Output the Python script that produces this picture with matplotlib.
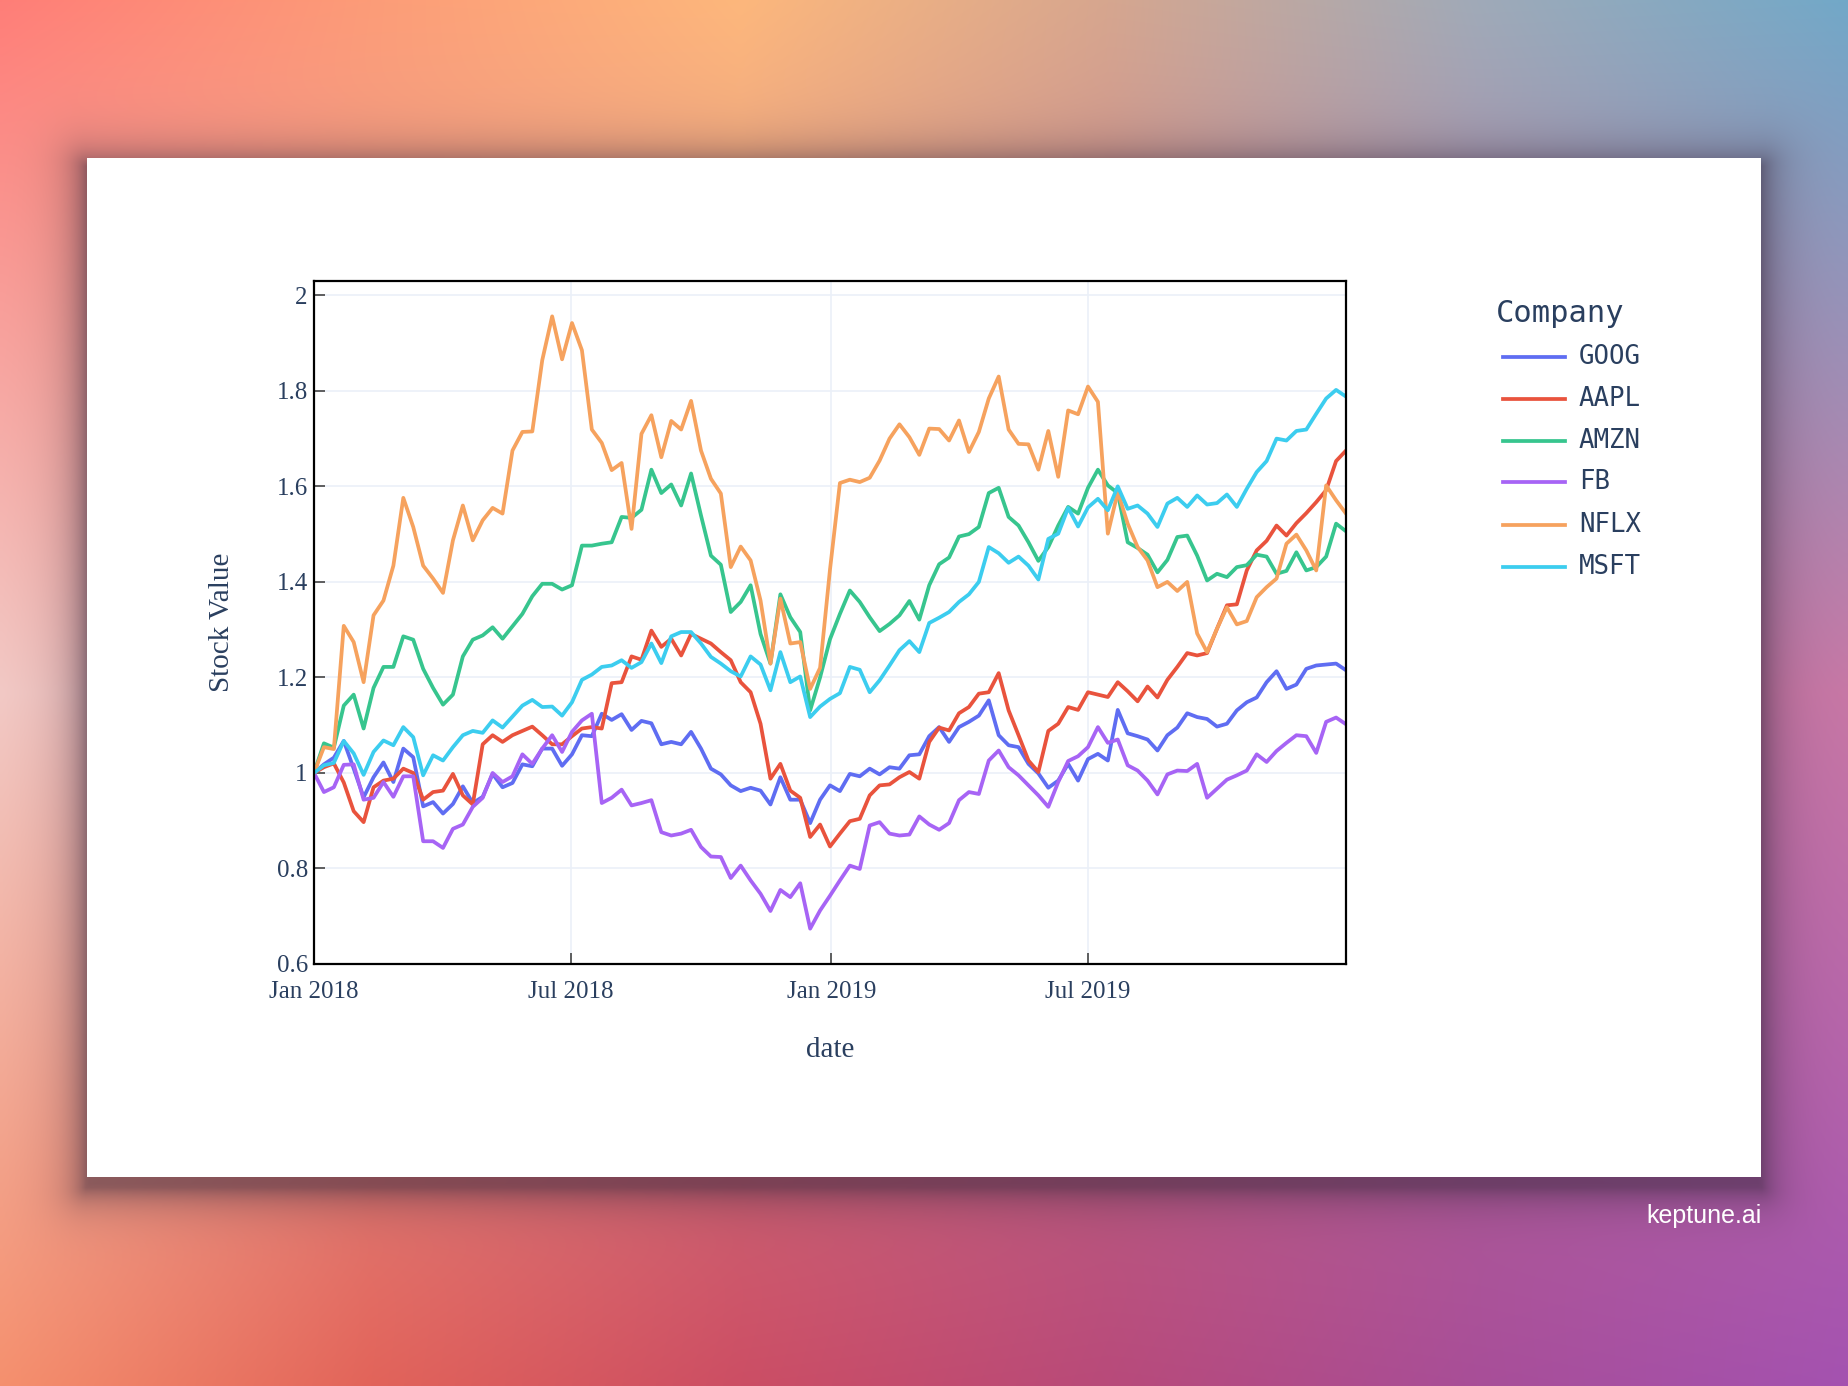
import numpy as np
import pandas as pd
import matplotlib
matplotlib.use("Agg")
import matplotlib.pyplot as plt
from matplotlib.patches import Rectangle
from matplotlib.lines import Line2D
from matplotlib.colors import to_rgb

# weekly normalised stock values, 2018-01-01 .. 2019-12-30
dates = pd.date_range("2018-01-01", periods=105, freq="7D")

goog = [1.000, 1.018, 1.032, 1.067, 1.009, 0.949, 0.991, 1.022, 0.981, 1.051,
        1.033, 0.930, 0.939, 0.915, 0.935, 0.972, 0.937, 0.950, 0.998, 0.970,
        0.979, 1.018, 1.014, 1.051, 1.051, 1.015, 1.039, 1.079, 1.077, 1.124,
        1.111, 1.123, 1.090, 1.109, 1.104, 1.060, 1.065, 1.060, 1.086, 1.051,
        1.009, 0.997, 0.974, 0.962, 0.969, 0.963, 0.934, 0.991, 0.944, 0.944,
        0.895, 0.944, 0.974, 0.962, 0.998, 0.993, 1.009, 0.997, 1.012, 1.009,
        1.037, 1.039, 1.077, 1.096, 1.065, 1.096, 1.107, 1.120, 1.152, 1.079,
        1.058, 1.054, 1.019, 0.999, 0.969, 0.984, 1.019, 0.984, 1.029, 1.040,
        1.026, 1.132, 1.083, 1.077, 1.070, 1.047, 1.079, 1.095, 1.125, 1.117,
        1.113, 1.097, 1.103, 1.131, 1.148, 1.158, 1.190, 1.213, 1.176, 1.185,
        1.218, 1.225, 1.227, 1.229, 1.215]

aapl = [1.000, 1.012, 1.020, 0.980, 0.920, 0.897, 0.970, 0.984, 0.988, 1.009,
        1.000, 0.944, 0.960, 0.963, 0.998, 0.953, 0.934, 1.060, 1.079, 1.065,
        1.079, 1.088, 1.097, 1.079, 1.060, 1.060, 1.077, 1.093, 1.096, 1.093,
        1.188, 1.190, 1.244, 1.237, 1.298, 1.264, 1.281, 1.246, 1.291, 1.281,
        1.271, 1.253, 1.236, 1.190, 1.169, 1.103, 0.988, 1.019, 0.963, 0.948,
        0.866, 0.892, 0.846, 0.873, 0.899, 0.904, 0.953, 0.974, 0.976, 0.991,
        1.002, 0.988, 1.065, 1.095, 1.089, 1.125, 1.138, 1.166, 1.169, 1.209,
        1.131, 1.079, 1.026, 1.002, 1.088, 1.103, 1.138, 1.132, 1.169, 1.164,
        1.159, 1.190, 1.171, 1.150, 1.181, 1.158, 1.195, 1.222, 1.251, 1.246,
        1.251, 1.302, 1.351, 1.353, 1.424, 1.466, 1.486, 1.518, 1.497, 1.523,
        1.544, 1.567, 1.592, 1.653, 1.675]

amzn = [1.000, 1.062, 1.053, 1.141, 1.164, 1.093, 1.178, 1.222, 1.222, 1.286,
        1.279, 1.218, 1.178, 1.143, 1.164, 1.244, 1.279, 1.288, 1.305, 1.281,
        1.307, 1.333, 1.370, 1.396, 1.396, 1.384, 1.393, 1.476, 1.476, 1.480,
        1.483, 1.536, 1.534, 1.551, 1.635, 1.586, 1.604, 1.560, 1.627, 1.539,
        1.455, 1.436, 1.337, 1.358, 1.393, 1.291, 1.229, 1.374, 1.326, 1.295,
        1.131, 1.200, 1.280, 1.333, 1.382, 1.358, 1.326, 1.297, 1.312, 1.330,
        1.360, 1.321, 1.393, 1.437, 1.451, 1.495, 1.500, 1.515, 1.586, 1.597,
        1.536, 1.518, 1.483, 1.444, 1.473, 1.518, 1.557, 1.543, 1.597, 1.635,
        1.602, 1.586, 1.483, 1.471, 1.457, 1.420, 1.446, 1.494, 1.497, 1.455,
        1.403, 1.417, 1.410, 1.431, 1.435, 1.457, 1.453, 1.417, 1.423, 1.462,
        1.424, 1.431, 1.453, 1.522, 1.506]

fb = [1.000, 0.960, 0.970, 1.017, 1.018, 0.944, 0.948, 0.981, 0.950, 0.993,
      0.993, 0.857, 0.857, 0.843, 0.883, 0.892, 0.929, 0.948, 1.000, 0.981,
      0.993, 1.039, 1.019, 1.051, 1.079, 1.044, 1.086, 1.110, 1.124, 0.937,
      0.948, 0.965, 0.932, 0.937, 0.943, 0.876, 0.869, 0.873, 0.881, 0.845,
      0.825, 0.824, 0.780, 0.806, 0.775, 0.747, 0.711, 0.755, 0.740, 0.769,
      0.674, 0.712, 0.743, 0.775, 0.806, 0.799, 0.890, 0.897, 0.873, 0.869,
      0.871, 0.909, 0.892, 0.881, 0.895, 0.943, 0.960, 0.956, 1.026, 1.047,
      1.012, 0.995, 0.974, 0.953, 0.929, 0.981, 1.025, 1.035, 1.054, 1.096,
      1.063, 1.070, 1.016, 1.005, 0.984, 0.955, 0.997, 1.005, 1.004, 1.019,
      0.948, 0.967, 0.986, 0.995, 1.005, 1.039, 1.023, 1.046, 1.063, 1.079,
      1.077, 1.042, 1.107, 1.116, 1.102]

nflx = [1.000, 1.054, 1.050, 1.308, 1.274, 1.190, 1.330, 1.361, 1.434, 1.576,
        1.515, 1.434, 1.407, 1.377, 1.487, 1.560, 1.487, 1.529, 1.555, 1.543,
        1.675, 1.714, 1.715, 1.864, 1.956, 1.866, 1.942, 1.885, 1.719, 1.691,
        1.634, 1.649, 1.511, 1.710, 1.749, 1.661, 1.737, 1.719, 1.779, 1.675,
        1.616, 1.585, 1.431, 1.474, 1.445, 1.361, 1.229, 1.365, 1.271, 1.274,
        1.176, 1.220, 1.426, 1.607, 1.614, 1.609, 1.618, 1.654, 1.700, 1.730,
        1.703, 1.666, 1.721, 1.720, 1.696, 1.738, 1.672, 1.714, 1.784, 1.830,
        1.719, 1.689, 1.688, 1.635, 1.716, 1.620, 1.759, 1.751, 1.809, 1.777,
        1.501, 1.588, 1.522, 1.473, 1.445, 1.389, 1.400, 1.381, 1.400, 1.292,
        1.253, 1.302, 1.347, 1.311, 1.318, 1.368, 1.389, 1.407, 1.480, 1.499,
        1.466, 1.424, 1.602, 1.571, 1.543]

msft = [1.000, 1.016, 1.021, 1.067, 1.041, 0.996, 1.044, 1.068, 1.058, 1.096,
        1.075, 0.995, 1.037, 1.026, 1.054, 1.079, 1.088, 1.084, 1.110, 1.095,
        1.118, 1.141, 1.153, 1.138, 1.139, 1.120, 1.148, 1.195, 1.206, 1.222,
        1.225, 1.236, 1.220, 1.232, 1.271, 1.230, 1.286, 1.295, 1.295, 1.271,
        1.243, 1.229, 1.213, 1.202, 1.244, 1.227, 1.173, 1.253, 1.190, 1.202,
        1.117, 1.139, 1.155, 1.167, 1.222, 1.216, 1.169, 1.194, 1.225, 1.257,
        1.276, 1.253, 1.314, 1.325, 1.337, 1.358, 1.374, 1.400, 1.473, 1.460,
        1.440, 1.453, 1.434, 1.405, 1.490, 1.501, 1.555, 1.516, 1.556, 1.574,
        1.550, 1.600, 1.553, 1.560, 1.543, 1.515, 1.564, 1.576, 1.557, 1.581,
        1.562, 1.565, 1.583, 1.557, 1.595, 1.630, 1.653, 1.700, 1.696, 1.716,
        1.719, 1.752, 1.784, 1.802, 1.788]

companies = ["GOOG", "AAPL", "AMZN", "FB", "NFLX", "MSFT"]
series = [goog, aapl, amzn, fb, nflx, msft]
colors = ["#5f6df2", "#e9533d", "#37c58e", "#a764f5", "#f6a25e", "#3ccdef"]

xtick_dates = ["2018-01-01", "2018-07-01", "2019-01-01", "2019-07-01"]
xtick_labels = ["Jan 2018", "Jul 2018", "Jan 2019", "Jul 2019"]
ytick_vals = [0.6, 0.8, 1.0, 1.2, 1.4, 1.6, 1.8, 2.0]
ytick_labels = ["0.6", "0.8", "1", "1.2", "1.4", "1.6", "1.8", "2"]

W, H = 1848, 1386
TXT = "#2a3f5f"
SERIF = "Liberation Serif"
MONO = "DejaVu Sans Mono"


def gradient(rows, h, w):
    g = np.array([[to_rgb(c) for c in r] for r in rows])
    xs = np.linspace(0, g.shape[1] - 1, w)
    ys = np.linspace(0, g.shape[0] - 1, h)
    tmp = np.stack([np.stack([np.interp(xs, np.arange(g.shape[1]), g[r, :, k])
                              for k in range(3)], -1) for r in range(g.shape[0])])
    out = np.empty((h, w, 3))
    for k in range(3):
        for j in range(w):
            out[:, j, k] = np.interp(ys, np.arange(g.shape[0]), tmp[:, j, k])
    return out


# blurry backdrop behind the card
top_row = ["#ff7e78", "#fc9c78", "#fdb77c", "#d6a68f", "#a0aab8", "#72a8c8"]
mid_row = ["#f3cac6", "#e8a4a2", "#d88a92", "#c87a92", "#c072a0", "#c878a6"]
bot_row = ["#f5906e", "#e2645a", "#cc4e64", "#b84a7a", "#a84e98", "#a452b0"]
h, w = H // 4, W // 4
bg = gradient([top_row, mid_row, bot_row], h, w)

# soft shadow of the card
card = (87, 158, 1761, 1177)
X, Y = np.meshgrid((np.arange(w) + 0.5) * 4, (np.arange(h) + 0.5) * 4)
dx = np.maximum(np.maximum(card[0] - X, X - card[2]), 0)
dy = np.maximum(np.maximum(card[1] + 8 - Y, Y - card[3] - 8), 0)
d = np.hypot(dx, dy)
alpha = 0.55 * np.exp(-d / 20.0)
shadow = np.array([0.22, 0.16, 0.24])
bg = bg * (1 - alpha[..., None]) + shadow * alpha[..., None]

fig = plt.figure(figsize=(W / 100, H / 100), dpi=100)
ax_bg = fig.add_axes([0, 0, 1, 1])
ax_bg.imshow(bg, extent=[0, W, H, 0], interpolation="bilinear", aspect="auto")
ax_bg.add_patch(Rectangle((card[0], card[1]), card[2] - card[0], card[3] - card[1],
                          facecolor="white", edgecolor="none", zorder=2))
ax_bg.text(1762, 1216, "keptune.ai", ha="right", va="center", color="white",
           fontsize=18, family="Liberation Sans", zorder=3)
ax_bg.set_xlim(0, W)
ax_bg.set_ylim(H, 0)
ax_bg.axis("off")

# main chart
ax = fig.add_axes([314 / W, 1 - 964 / H, 1032 / W, 683 / H])
ax.set_facecolor("white")
for name, vals, col in zip(companies, series, colors):
    ax.plot(dates, vals, color=col, lw=2.7, label=name)

ax.set_xlim(dates[0], dates[-1])
ax.set_ylim(0.6, 2.03)
ax.set_xticks(pd.to_datetime(xtick_dates))
ax.set_xticklabels(xtick_labels, family=SERIF)
ax.set_yticks(ytick_vals)
ax.set_yticklabels(ytick_labels, family=SERIF)
ax.grid(color="#ebf0f8", lw=1.2)
ax.set_axisbelow(True)
for sp in ax.spines.values():
    sp.set_color("black")
    sp.set_linewidth(1.6)
ax.tick_params(direction="in", length=8, width=1.2, color="#444444",
               labelsize=18, labelcolor=TXT)
ax.tick_params(axis="y", pad=4.5)
ax.tick_params(axis="x", pad=12.5)

ax.set_ylabel("Stock Value", fontsize=21, family=SERIF, color=TXT, va="center")
ax.yaxis.set_label_coords((222 - 314) / 1032, 0.5)
ax.set_xlabel("date", fontsize=21, family=SERIF, color=TXT, va="center")
ax.xaxis.set_label_coords(0.5, -(1050 - 964) / 683)

# legend drawn on the figure
fig.text(1496 / W, 1 - 313 / H, "Company", family=MONO, fontsize=22,
         color=TXT, va="center")
for k, (name, col) in enumerate(zip(companies, colors)):
    yy = 1 - (356.5 + 42 * k) / H
    fig.add_artist(Line2D([1503 / W, 1565 / W], [yy, yy], color=col, lw=2.7,
                          transform=fig.transFigure))
    fig.text(1579 / W, yy, name, family=MONO, fontsize=18.5, color=TXT, va="center")

fig.savefig("out.png", dpi=100)
